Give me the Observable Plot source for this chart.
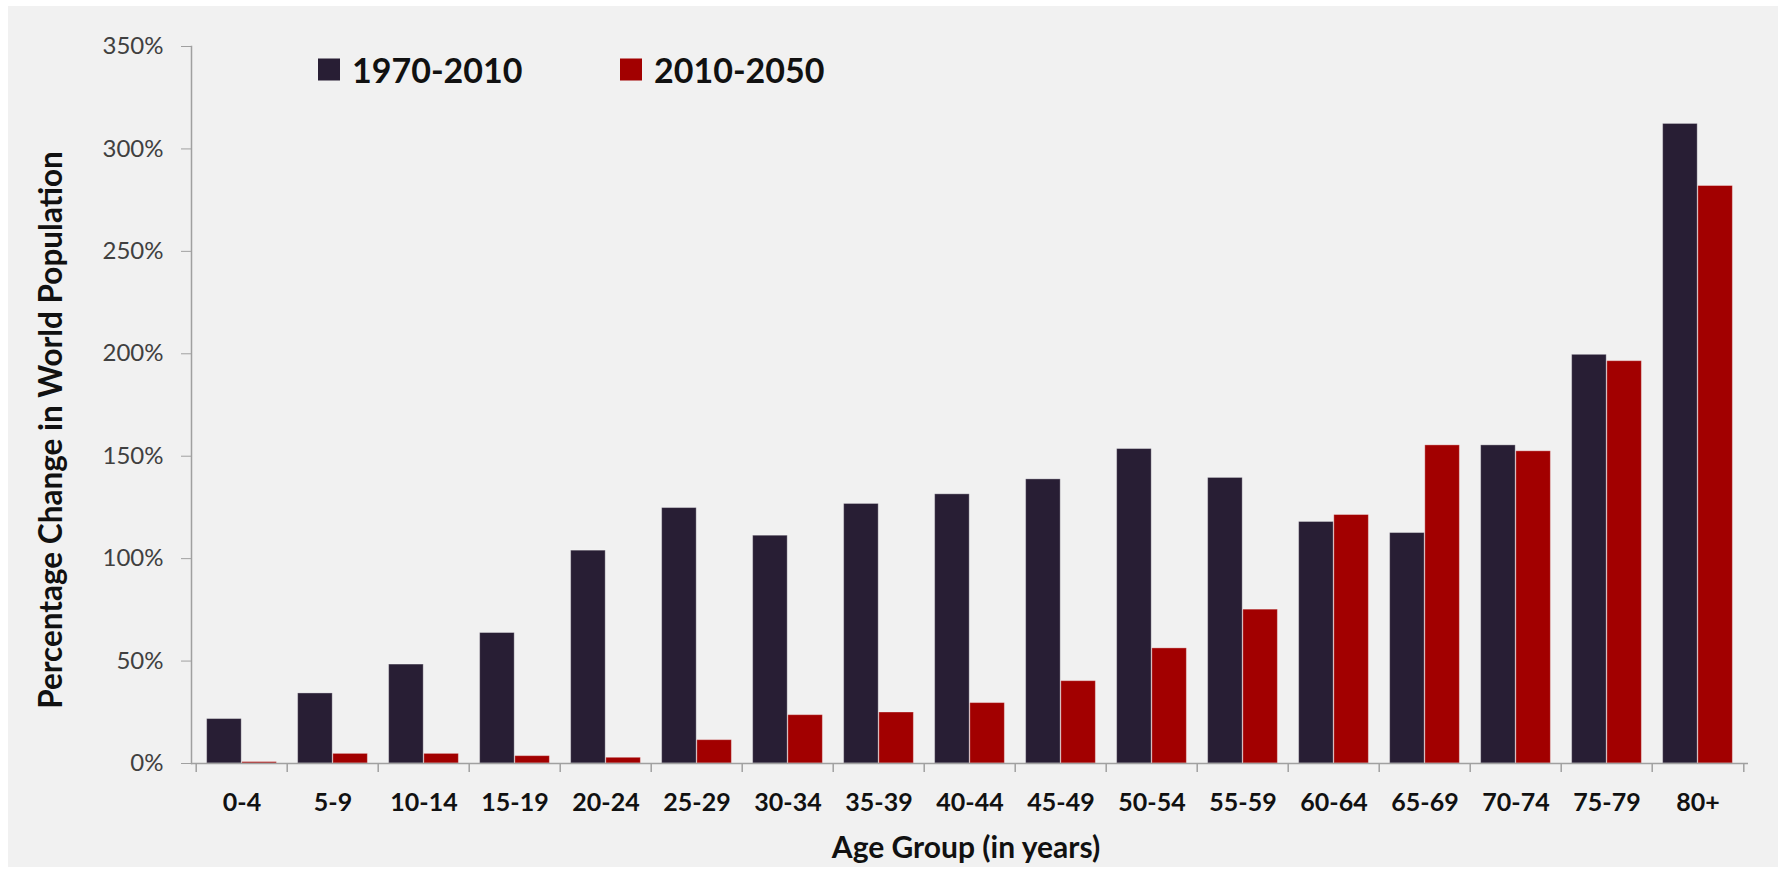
<!DOCTYPE html>
<html>
<head>
<meta charset="utf-8">
<script src="https://cdn.jsdelivr.net/npm/d3@7"></script>
<script src="https://cdn.jsdelivr.net/npm/@observablehq/plot@0.6"></script>
<style>
  html, body { margin: 0; padding: 0; background: #ffffff; }
  #wrap { position: relative; width: 1781px; height: 870px; overflow: hidden; font-family: Lato, "Open Sans", sans-serif; }
  #panel { position: absolute; left: 8px; top: 6px; width: 1770px; height: 861px; background: #f1f1f1; }
  #chart { position: absolute; left: 0; top: 0; }
  .ytitle { position: absolute; left: 50px; top: 430px; transform: translate(-50%, -50%) rotate(-90deg); white-space: nowrap; font: 700 31.5px Lato, sans-serif; color: #111; }
  .xtitle { position: absolute; left: 966px; top: 846px; transform: translate(-50%, -50%); white-space: nowrap; font: 700 30px Lato, sans-serif; color: #111; }
  .legend { position: absolute; top: 69px; transform: translateY(-50%); display: flex; align-items: center; font: 700 34px Lato, sans-serif; color: #111; white-space: nowrap; }
  .legend .sw { width: 22px; height: 22px; margin-right: 12px; }
</style>
</head>
<body>
<div id="wrap">
  <div id="panel"></div>
  <div id="chart"></div>
  <div class="ytitle">Percentage Change in World Population</div>
  <div class="xtitle">Age Group (in years)</div>
  <div class="legend" style="left:318px"><span class="sw" style="background:#281e34"></span>1970-2010</div>
  <div class="legend" style="left:620px"><span class="sw" style="background:#a20000"></span>2010-2050</div>
</div>
<script>
const ageGroups = ["0-4","5-9","10-14","15-19","20-24","25-29","30-34","35-39","40-44","45-49","50-54","55-59","60-64","65-69","70-74","75-79","80+"];
const series = ["1970-2010", "2010-2050"];
const change1970_2010 = [21.7, 34.2, 48.3, 63.7, 103.9, 124.7, 111.2, 126.7, 131.4, 138.7, 153.5, 139.4, 117.9, 112.5, 155.3, 199.5, 312.2];
const change2010_2050 = [0.7, 4.7, 4.7, 3.6, 2.8, 11.4, 23.6, 24.9, 29.5, 40.2, 56.2, 75.1, 121.3, 155.3, 152.4, 196.4, 281.9];
const yTicks = [0, 50, 100, 150, 200, 250, 300, 350];
const colors = ["#281e34", "#a20000"];

const rowsA = ageGroups.map((a, i) => ({age: a, series: series[0], v: change1970_2010[i] / 100}));
const rowsB = ageGroups.map((a, i) => ({age: a, series: series[1], v: change2010_2050[i] / 100}));

const W = 1781, H = 870, mL = 191, mR = 33, mT = 46, mB = 107;
const bw = (W - mL - mR) / ageGroups.length;
const outer = bw * 0.116;
const half = bw / 2;
const axisGray = "#a0a0a0";

const chart = Plot.plot({
  width: W,
  height: H,
  marginLeft: mL,
  marginRight: mR,
  marginTop: mT,
  marginBottom: mB,
  style: {background: "transparent", fontFamily: "Lato, sans-serif"},
  x: {type: "band", domain: ageGroups, padding: 0, axis: null},
  y: {domain: [0, 3.5], axis: null},
  marks: [
    Plot.barY(rowsA, {x: "age", y: "v", fill: colors[0], stroke: "#ffffff", strokeOpacity: 0.35, strokeWidth: 1, insetLeft: outer, insetRight: half}),
    Plot.barY(rowsB, {x: "age", y: "v", fill: colors[1], stroke: "#ffffff", strokeOpacity: 0.35, strokeWidth: 1, insetLeft: half, insetRight: outer}),
    Plot.axisY(yTicks.map(d => d / 100), {anchor: "left", tickSize: 10, tickPadding: 18, tickFormat: d3.format(".0%"), fontSize: 24, fill: "#404040", stroke: axisGray, label: null}),
    Plot.frame({anchor: "left", stroke: axisGray, strokeWidth: 1.5}),
    Plot.ruleY([0], {stroke: axisGray, strokeWidth: 1.5}),
    Plot.axisX(ageGroups, {anchor: "bottom", tickSize: 9, tickFormat: () => "", dx: -half, stroke: axisGray, strokeWidth: 1.5, label: null}),
    Plot.axisX([ageGroups[ageGroups.length - 1]], {anchor: "bottom", tickSize: 9, tickFormat: () => "", dx: half, stroke: axisGray, strokeWidth: 1.5, label: null}),
    Plot.axisX(ageGroups, {anchor: "bottom", tickSize: 0, tickPadding: 30, fontSize: 25, fontWeight: "bold", fill: "#111", label: null})
  ]
});
document.getElementById("chart").appendChild(chart);
</script>
</body>
</html>
